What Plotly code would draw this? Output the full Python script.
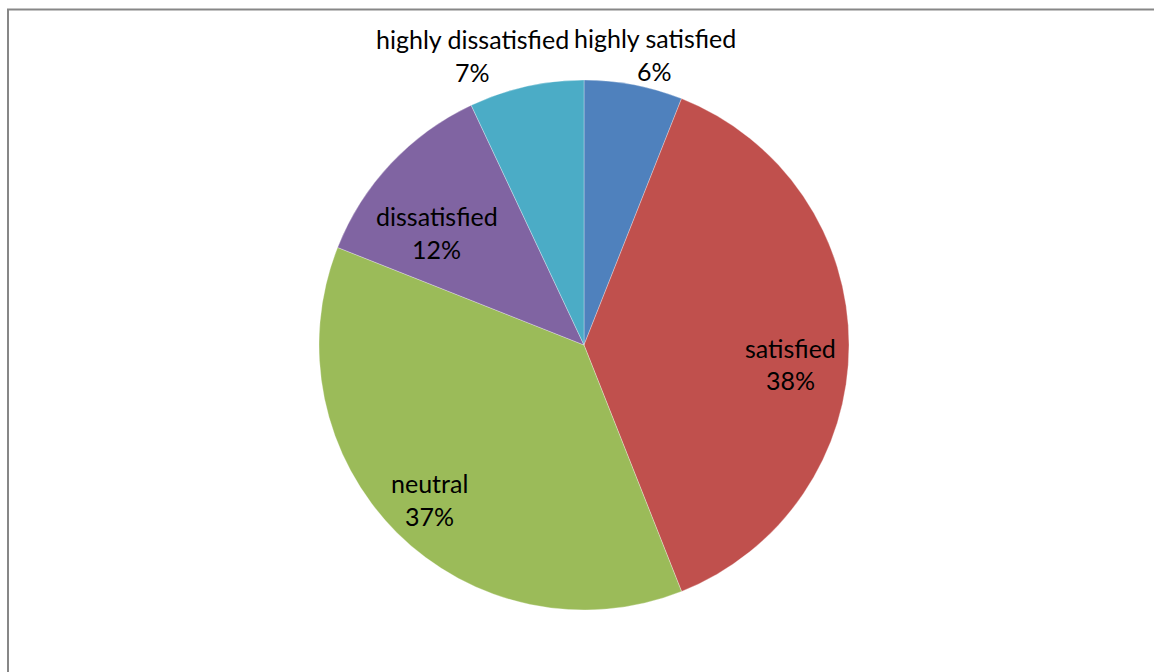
import math
import plotly.graph_objects as go

categories = ["highly satisfied", "satisfied", "neutral", "dissatisfied", "highly dissatisfied"]
values = [6, 38, 37, 12, 7]
colors = ["#4F81BD", "#C0504D", "#9BBB59", "#8064A2", "#4BACC6"]

# label placement styles (radius fraction, pixel nudges)
label_rf = [1.12, 0.78, 0.823, 0.70, 1.12]
label_nudge = [(15, 1), (0, 19), (0, 0), (-12, 14), (-47, 0)]

W, H = 1154, 672
CX, CY, R = 584, 345, 265
TOP, BOT = CY - R, CY + R

fig = go.Figure(go.Pie(
    labels=categories, values=values, sort=False, direction="clockwise", rotation=0,
    marker=dict(colors=colors, line=dict(color="rgba(255,255,255,0.5)", width=0.6)),
    textinfo="none", hoverinfo="label+percent", showlegend=False,
    domain=dict(x=[(CX - R) / W, (CX + R) / W], y=[0, 1]),
))

total = sum(values)
cum = 0
font = dict(family="Lato, 'Open Sans', sans-serif", size=25, color="#000000")
for i, (name, v) in enumerate(zip(categories, values)):
    mid = (cum + v / 2) / total * 2 * math.pi
    cum += v
    r = label_rf[i] * R
    px = CX + r * math.sin(mid) + label_nudge[i][0]
    py = CY - r * math.cos(mid) + label_nudge[i][1]
    pct = f"{round(v / total * 100)}%"
    for txt, dy in ((name, -16.5), (pct, 16.5)):
        fig.add_annotation(
            x=px / W, y=(BOT - (py + dy)) / (BOT - TOP), xref="paper", yref="paper",
            text=txt, showarrow=False, font=font, xanchor="center", yanchor="middle",
        )

# chart frame
fig.add_shape(type="rect", xref="paper", yref="paper",
              x0=8 / W, x1=(W + 20) / W, y0=(BOT - (H + 20)) / (BOT - TOP), y1=(BOT - 9.5) / (BOT - TOP),
              line=dict(color="#878787", width=2), fillcolor="rgba(0,0,0,0)", layer="below")

fig.update_layout(
    width=W, height=H,
    margin=dict(l=0, r=0, t=TOP, b=H - BOT),
    paper_bgcolor="white", plot_bgcolor="white",
)

fig.write_html("out.html", config={"displayModeBar": False})
